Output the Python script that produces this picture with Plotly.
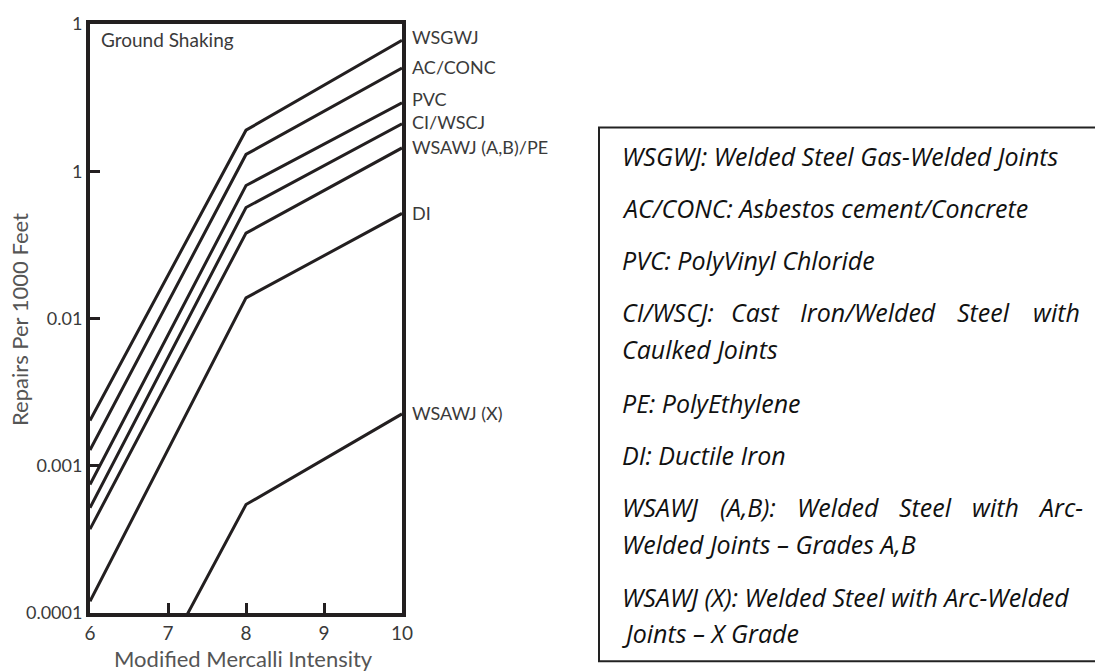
import math
import plotly.graph_objects as go

# Modified Mercalli Intensity break points
mmi = [6, 8, 10]

# Repair rates (repairs per 1000 ft) for each pipe class
series_names = ["WSGWJ", "AC/CONC", "PVC", "CI/WSCJ", "WSAWJ (A,B)/PE", "DI", "WSAWJ (X)"]
wsgwj = [0.00203, 0.190, 0.774]
ac_conc = [0.00128, 0.130, 0.503]
pvc = [0.000745, 0.080, 0.292]
ci_wscj = [0.000519, 0.0567, 0.210]
wsawj_ab_pe = [0.000371, 0.038, 0.144]
di = [0.000120, 0.0138, 0.0517]
wsawj_x = [0.0000057, 0.000545, 0.00225]
series_values = [wsgwj, ac_conc, pvc, ci_wscj, wsawj_ab_pe, di, wsawj_x]

# Axis ticks
x_ticks = [6, 7, 8, 9, 10]
y_tickvals = [0.0001, 0.001, 0.01, 0.1, 1]
y_ticktext = ["0.0001", "0.001", "0.01", "1", "1"]

# Glossary of pipe abbreviations
glossary_lines = [
    "WSGWJ: Welded Steel Gas-Welded Joints",
    "AC/CONC: Asbestos cement/Concrete",
    "PVC: PolyVinyl Chloride",
    ["CI/WSCJ:", "Cast", "Iron/Welded", "Steel", "with"],
    "Caulked Joints",
    "PE: PolyEthylene",
    "DI: Ductile Iron",
    ["WSAWJ", "(A,B):", "Welded", "Steel", "with", "Arc-"],
    "Welded Joints \u2013 Grades A,B",
    "WSAWJ (X): Welded Steel with Arc-Welded",
    "Joints \u2013 X Grade",
]

INK = "#231f20"
LABEL = "#3a3a3a"
CHART_FONT = "Lato"

W, H = 1095, 671
L, R, T, B = 90, 402, 16, 613  # plot area in pixels


def px(xp):
    return (xp - L) / (R - L)


def py(yp):
    return (B - yp) / (B - T)


fig = go.Figure()
for name, vals in zip(series_names, series_values):
    fig.add_trace(go.Scatter(x=mmi, y=vals, mode="lines", name=name,
                             line=dict(color=INK, width=3)))

annotations = []
# series labels at the right end of each line
label_shift = {"WSGWJ": 3, "AC/CONC": 1, "PVC": 4, "CI/WSCJ": 2,
               "WSAWJ (A,B)/PE": 1, "DI": 0, "WSAWJ (X)": 1}
for name, vals in zip(series_names, series_values):
    annotations.append(dict(
        x=mmi[-1], y=math.log10(vals[-1]), xref="x", yref="y",
        text=name, showarrow=False, xanchor="left", yanchor="middle",
        xshift=8, yshift=label_shift[name],
        font=dict(family=CHART_FONT, size=18, color=LABEL)))

annotations.append(dict(
    x=px(99), y=py(32), xref="paper", yref="paper", text="Ground Shaking",
    showarrow=False, xanchor="left", yanchor="middle",
    font=dict(family=CHART_FONT, size=19, color=LABEL)))

annotations.append(dict(
    x=px(20), y=py(316), xref="paper", yref="paper", text="Repairs Per 1000 Feet",
    showarrow=False, xanchor="center", yanchor="middle", textangle=-90,
    font=dict(family=CHART_FONT, size=22, color="#555555")))

annotations.append(dict(
    x=px(243), y=py(659), xref="paper", yref="paper", text="Modified Mercalli Intensity",
    showarrow=False, xanchor="center", yanchor="middle",
    font=dict(family=CHART_FONT, size=22, color="#555555")))

# glossary text block; justified lines are laid out word by word
GL_FONT = dict(family="Open Sans", size=25, color="#111111")
line_y = [150, 203, 255, 308, 345, 400, 453, 506, 543, 597, 633]
word_pos = {
    3: [(620, "left"), (755, "center"), (868, "center"), (983, "center"), (1082, "right")],
    7: [(620, "left"), (748, "center"), (838, "center"), (926, "center"),
        (995, "center"), (1085, "right")],
}
for i, (line, yy) in enumerate(zip(glossary_lines, line_y)):
    if isinstance(line, list):
        for word, (xx, anchor) in zip(line, word_pos[i]):
            annotations.append(dict(
                x=px(xx), y=py(yy), xref="paper", yref="paper",
                text=f"<i>{word}</i>", showarrow=False,
                xanchor=anchor, yanchor="middle", font=GL_FONT))
    else:
        annotations.append(dict(
            x=px(620), y=py(yy), xref="paper", yref="paper",
            text=f"<i>{line}</i>", showarrow=False,
            xanchor="left", yanchor="middle", font=GL_FONT))

shapes = [dict(type="rect", xref="paper", yref="paper",
               x0=px(599), x1=px(1102), y0=py(662), y1=py(121),
               line=dict(color="#222222", width=2), fillcolor="rgba(0,0,0,0)")]

fig.update_layout(
    width=W, height=H,
    margin=dict(l=L, r=W - R, t=T, b=H - B),
    paper_bgcolor="white", plot_bgcolor="white",
    showlegend=False,
    font=dict(family=CHART_FONT, color=LABEL),
    annotations=annotations,
    shapes=shapes,
    xaxis=dict(range=[6, 10], tickvals=x_ticks, ticks="inside", ticklen=10,
               tickwidth=3, tickcolor=INK, showline=True, linewidth=4,
               linecolor=INK, mirror=True, showgrid=False, zeroline=False,
               tickfont=dict(family=CHART_FONT, size=19, color=LABEL)),
    yaxis=dict(type="log", range=[-4, 0], tickvals=y_tickvals, ticktext=y_ticktext,
               ticks="inside", ticklen=10, tickwidth=3, tickcolor=INK,
               showline=True, linewidth=4, linecolor=INK, mirror=True,
               showgrid=False, zeroline=False,
               tickfont=dict(family=CHART_FONT, size=18, color=LABEL)),
)

fig.write_html("out.html")
